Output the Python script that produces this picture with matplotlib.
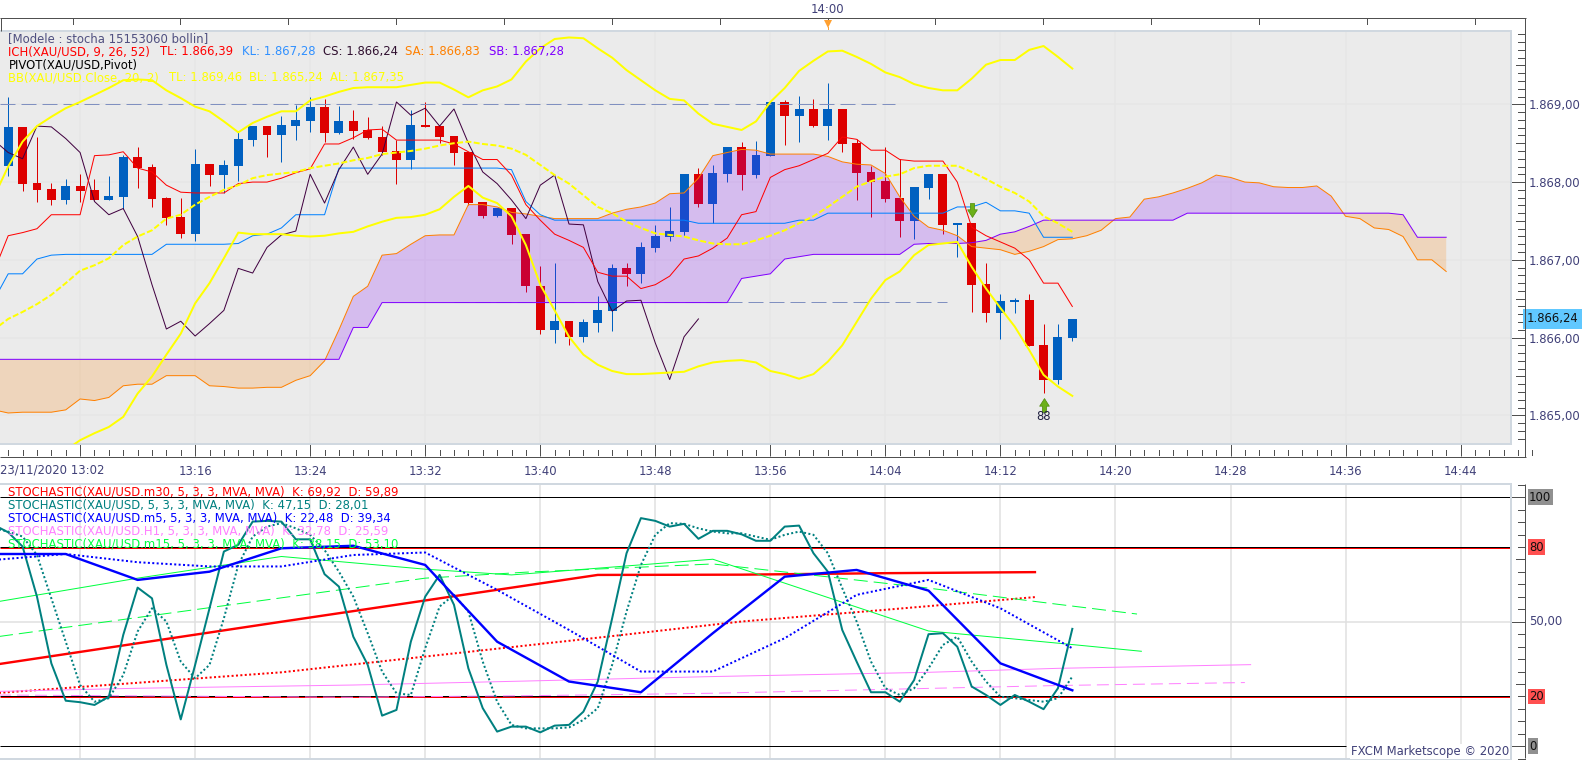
import matplotlib
matplotlib.use('Agg')
import matplotlib.pyplot as plt
from matplotlib.lines import Line2D
from matplotlib.path import Path

W, H = 1583, 760
TXT = '#404078'

# bars: one minute each, index 0 is the tick labelled 13:02
bar_t = list(range(-5, 70))
bar_open = [1868.21, 1868.71, 1867.99, 1867.91, 1867.77, 1867.95, 1867.90, 1867.77, 1867.81, 1868.32,
            1868.19, 1867.80, 1867.55, 1867.33, 1868.23, 1868.09, 1868.21, 1868.54, 1868.72, 1868.61,
            1868.72, 1868.79, 1868.97, 1868.63, 1868.79, 1868.67, 1868.58, 1868.40, 1868.28, 1868.73,
            1868.72, 1868.59, 1868.39, 1867.74, 1867.56, 1867.67, 1867.33, 1866.66, 1866.10, 1866.21,
            1866.01, 1866.19, 1866.34, 1866.90, 1866.82, 1867.15, 1867.29, 1867.36, 1868.10, 1867.72,
            1868.10, 1868.45, 1868.09, 1868.34, 1869.03, 1868.85, 1868.94, 1868.72, 1868.94, 1868.50,
            1868.13, 1868.01, 1867.80, 1867.50, 1867.92, 1868.10, 1867.45, 1867.47, 1866.69, 1866.32,
            1866.46, 1866.48, 1865.90, 1865.45, 1865.99]
bar_high = [1869.09, 1868.71, 1868.58, 1867.99, 1868.04, 1868.10, 1868.04, 1868.08, 1868.35, 1868.45,
            1868.23, 1867.81, 1867.80, 1868.43, 1868.23, 1868.28, 1868.66, 1868.72, 1868.72, 1868.85,
            1868.99, 1869.09, 1869.07, 1868.98, 1868.93, 1868.84, 1868.72, 1868.54, 1868.93, 1869.03,
            1868.72, 1868.59, 1868.39, 1867.74, 1867.67, 1867.67, 1867.33, 1866.92, 1866.96, 1866.21,
            1866.24, 1866.53, 1866.95, 1866.96, 1867.23, 1867.45, 1867.68, 1868.10, 1868.18, 1868.22,
            1868.45, 1868.52, 1868.53, 1869.03, 1869.06, 1869.11, 1869.07, 1869.27, 1868.94, 1868.55,
            1868.21, 1868.45, 1868.30, 1867.94, 1868.10, 1868.10, 1867.47, 1867.47, 1866.96, 1866.56,
            1866.51, 1866.56, 1866.17, 1866.17, 1866.24]
bar_low = [1868.08, 1867.88, 1867.75, 1867.70, 1867.72, 1867.74, 1867.77, 1867.77, 1867.66, 1867.92,
           1867.68, 1867.45, 1867.28, 1867.24, 1867.95, 1867.86, 1868.01, 1868.46, 1868.32, 1868.26,
           1868.54, 1868.64, 1868.52, 1868.62, 1868.56, 1868.55, 1868.35, 1867.98, 1868.17, 1868.71,
           1868.50, 1868.22, 1867.71, 1867.54, 1867.55, 1867.20, 1866.59, 1866.05, 1865.93, 1865.90,
           1865.94, 1866.07, 1866.08, 1866.66, 1866.70, 1867.10, 1867.24, 1867.31, 1867.68, 1867.47,
           1868.00, 1867.90, 1868.05, 1868.34, 1868.48, 1868.52, 1868.71, 1868.54, 1868.39, 1867.77,
           1867.55, 1867.74, 1867.29, 1867.27, 1867.78, 1867.33, 1867.04, 1866.33, 1866.20, 1865.98,
           1866.32, 1865.89, 1865.29, 1865.40, 1865.96]
bar_close = [1868.71, 1867.98, 1867.90, 1867.77, 1867.95, 1867.89, 1867.77, 1867.82, 1868.32, 1868.18,
             1867.78, 1867.54, 1867.33, 1868.23, 1868.09, 1868.22, 1868.55, 1868.72, 1868.61, 1868.73,
             1868.80, 1868.97, 1868.63, 1868.79, 1868.66, 1868.57, 1868.39, 1868.28, 1868.73, 1868.71,
             1868.58, 1868.37, 1867.73, 1867.56, 1867.67, 1867.32, 1866.66, 1866.10, 1866.21, 1866.01,
             1866.20, 1866.36, 1866.90, 1866.82, 1867.17, 1867.31, 1867.37, 1868.10, 1867.72, 1868.12,
             1868.45, 1868.09, 1868.35, 1869.03, 1868.85, 1868.94, 1868.72, 1868.94, 1868.49, 1868.12,
             1868.00, 1867.78, 1867.50, 1867.94, 1868.10, 1867.45, 1867.47, 1866.68, 1866.32, 1866.47,
             1866.48, 1865.89, 1865.45, 1866.01, 1866.24]

# ichimoku, index -6 onwards
tenkan = [1866.85, 1867.31, 1867.35, 1867.40, 1867.58, 1867.58, 1867.58, 1868.34, 1868.35, 1868.39,
          1868.18, 1868.13, 1867.96, 1867.87, 1867.86, 1867.86, 1867.86, 1867.98, 1868.00, 1868.00,
          1868.05, 1868.12, 1868.17, 1868.49, 1868.49, 1868.57, 1868.67, 1868.68, 1868.54, 1868.54,
          1868.54, 1868.54, 1868.49, 1868.39, 1868.29, 1868.29, 1868.09, 1867.71, 1867.51, 1867.33,
          1867.25, 1867.16, 1866.84, 1866.79, 1866.79, 1866.63, 1866.68, 1866.79, 1867.01, 1867.05,
          1867.15, 1867.28, 1867.58, 1867.62, 1868.06, 1868.16, 1868.21, 1868.29, 1868.37, 1868.58,
          1868.55, 1868.41, 1868.41, 1868.29, 1868.27, 1868.27, 1868.27, 1868.00, 1867.42, 1867.31,
          1867.23, 1867.15, 1867.00, 1866.70, 1866.70, 1866.40]
kijun = ([1866.48, 1866.82, 1866.82, 1867.01, 1867.06] + [1867.07] * 7 + [1867.20] * 5
         + [1867.21, 1867.31, 1867.33, 1867.41] + [1867.58] * 3 + [1868.18] * 12
         + [1868.16, 1867.75, 1867.58] + [1867.51] * 10 + [1867.47] * 7 + [1867.51] * 2
         + [1867.60] * 9 + [1867.68, 1867.68, 1867.74, 1867.63, 1867.63, 1867.60] + [1867.29] * 3)
chikou = [1868.54, 1868.38, 1868.30, 1868.72, 1868.71, 1868.56, 1868.38, 1867.75, 1867.58, 1867.66,
          1867.30, 1866.68, 1866.11, 1866.21, 1866.02, 1866.18, 1866.35, 1866.89, 1866.83, 1867.16,
          1867.32, 1867.37, 1868.10, 1867.73, 1868.16, 1868.45, 1868.10, 1868.36, 1869.03, 1868.86,
          1868.95, 1868.72, 1868.94, 1868.50, 1868.13, 1867.98, 1867.77, 1867.53, 1867.96, 1868.09,
          1867.46, 1867.45, 1866.72, 1866.34, 1866.47, 1866.48, 1865.93, 1865.46, 1866.01, 1866.24]
senkou_a = [1865.07, 1865.03, 1865.04, 1865.04, 1865.04, 1865.07, 1865.21, 1865.19, 1865.23, 1865.38,
            1865.40, 1865.40, 1865.51, 1865.51, 1865.51, 1865.38, 1865.37, 1865.35, 1865.35, 1865.36,
            1865.36, 1865.45, 1865.51, 1865.70, 1866.10, 1866.53, 1866.66, 1867.06, 1867.08, 1867.20,
            1867.31, 1867.32, 1867.32, 1867.71, 1867.71, 1867.68, 1867.61, 1867.59, 1867.56, 1867.53,
            1867.53, 1867.53, 1867.53, 1867.60, 1867.65, 1867.68, 1867.73, 1867.85, 1867.86, 1868.05,
            1868.34, 1868.38, 1868.42, 1868.41, 1868.36, 1868.36, 1868.36, 1868.36, 1868.33, 1868.26,
            1868.23, 1868.22, 1868.11, 1867.81, 1867.56, 1867.42, 1867.38, 1867.31, 1867.17, 1867.15,
            1867.13, 1867.07, 1867.11, 1867.17, 1867.26, 1867.27, 1867.31, 1867.38, 1867.53, 1867.55,
            1867.78, 1867.81, 1867.86, 1867.92, 1867.99, 1868.09, 1868.06, 1868.00, 1867.99, 1867.94,
            1867.93, 1867.93, 1867.95, 1867.82, 1867.56, 1867.53, 1867.41, 1867.39, 1867.30, 1867.00,
            1867.00, 1866.85]
senkou_b = ([1865.72] * 25 + [1866.13] * 2 + [1866.45] * 25
            + [1866.76, 1866.79, 1866.82, 1867.01, 1867.04] + [1867.07] * 7
            + [1867.20] + [1867.21] * 3 + [1867.22, 1867.25, 1867.33, 1867.36, 1867.43]
            + [1867.51] * 10 + [1867.60] * 15 + [1867.58] + [1867.29] * 3)

# bollinger
bb_top = [1867.81, 1868.20, 1868.52, 1868.72, 1868.84, 1868.95, 1869.03, 1869.12, 1869.21, 1869.31,
          1869.32, 1869.31, 1869.18, 1869.08, 1868.97, 1868.91, 1868.78, 1868.64, 1868.76, 1868.84,
          1868.91, 1868.91, 1869.05, 1869.10, 1869.16, 1869.21, 1869.22, 1869.22, 1869.22, 1869.25,
          1869.28, 1869.28, 1869.19, 1869.09, 1869.18, 1869.23, 1869.32, 1869.55, 1869.72, 1869.84,
          1869.86, 1869.85, 1869.72, 1869.60, 1869.44, 1869.31, 1869.18, 1869.07, 1869.05, 1868.88,
          1868.75, 1868.71, 1868.67, 1868.78, 1869.03, 1869.21, 1869.43, 1869.56, 1869.68, 1869.69,
          1869.61, 1869.52, 1869.41, 1869.35, 1869.26, 1869.21, 1869.18, 1869.18, 1869.33, 1869.51,
          1869.57, 1869.57, 1869.70, 1869.75, 1869.61, 1869.46]
bb_mid = [1866.10, 1866.24, 1866.33, 1866.43, 1866.55, 1866.70, 1866.86, 1866.93, 1867.02, 1867.19,
          1867.30, 1867.38, 1867.53, 1867.58, 1867.71, 1867.81, 1867.90, 1867.96, 1868.05, 1868.09,
          1868.11, 1868.13, 1868.18, 1868.21, 1868.24, 1868.28, 1868.31, 1868.36, 1868.38, 1868.40,
          1868.43, 1868.47, 1868.50, 1868.52, 1868.49, 1868.47, 1868.43, 1868.35, 1868.22, 1868.09,
          1867.98, 1867.83, 1867.68, 1867.60, 1867.49, 1867.41, 1867.34, 1867.32, 1867.30, 1867.25,
          1867.21, 1867.20, 1867.20, 1867.25, 1867.31, 1867.38, 1867.47, 1867.56, 1867.68, 1867.81,
          1867.94, 1868.01, 1868.07, 1868.10, 1868.18, 1868.21, 1868.21, 1868.21, 1868.13, 1868.04,
          1867.94, 1867.86, 1867.75, 1867.56, 1867.47, 1867.36]
# lower band starts at index -1
bb_bot = [1864.55, 1864.68, 1864.77, 1864.85, 1864.98, 1865.28, 1865.50, 1865.78, 1866.05, 1866.44,
          1866.70, 1867.02, 1867.35, 1867.33, 1867.33, 1867.33, 1867.31, 1867.30, 1867.31, 1867.34,
          1867.36, 1867.43, 1867.49, 1867.54, 1867.55, 1867.58, 1867.65, 1867.81, 1867.95, 1867.80,
          1867.73, 1867.56, 1867.19, 1866.68, 1866.35, 1866.01, 1865.78, 1865.65, 1865.57, 1865.53,
          1865.53, 1865.54, 1865.55, 1865.56, 1865.63, 1865.68, 1865.70, 1865.71, 1865.68, 1865.57,
          1865.53, 1865.47, 1865.53, 1865.69, 1865.90, 1866.20, 1866.50, 1866.74, 1866.85, 1867.06,
          1867.19, 1867.21, 1867.23, 1866.91, 1866.63, 1866.38, 1866.14, 1865.84, 1865.52, 1865.37,
          1865.25]

price_ticks = [1865, 1866, 1867, 1868, 1869]
price_labels = ['1.865,00', '1.866,00', '1.867,00', '1.868,00', '1.869,00']
time_ticks = list(range(0, 97, 8))
time_labels = ['', '13:16', '13:24', '13:32', '13:40', '13:48', '13:56', '14:04', '14:12',
               '14:20', '14:28', '14:36', '14:44']

# stochastics, current timeframe, index -6 to 69
sto_k = [88.9, 85.9, 80.2, 60.1, 33.3, 18.3, 17.7, 16.6, 19.9, 44.7,
         63.7, 59.4, 32.7, 10.8, 32.7, 55.4, 78.2, 80.9, 90.2, 90.5,
         90.2, 83.1, 83.1, 69.1, 64.1, 44.0, 32.7, 12.3, 14.6, 42.0,
         60.1, 68.8, 56.8, 31.3, 15.3, 5.9, 7.9, 7.9, 5.6, 8.3,
         8.6, 13.9, 26.0, 51.4, 77.5, 91.6, 90.5, 88.2, 89.3, 83.3,
         86.5, 86.5, 85.1, 82.5, 82.5, 88.2, 88.6, 77.5, 70.1, 46.7,
         34.0, 21.7, 21.7, 17.9, 26.6, 45.0, 45.4, 40.0, 24.0, 20.6,
         16.6, 20.6, 17.9, 14.9, 23.3, 47.15]
sto_d = [87.5, 86.2, 84.2, 76.8, 59.4, 42.0, 24.6, 17.9, 19.3, 28.6,
         46.1, 55.4, 50.1, 34.0, 27.3, 32.7, 51.4, 72.8, 84.2, 88.2,
         89.6, 87.5, 84.9, 78.8, 70.1, 60.1, 45.4, 30.0, 21.3, 20.6,
         39.4, 56.1, 60.8, 54.1, 34.0, 17.9, 8.6, 7.2, 7.2, 7.2,
         7.6, 10.6, 15.3, 32.7, 54.1, 72.8, 84.9, 89.6, 89.3, 87.5,
         86.2, 85.5, 85.5, 84.2, 82.9, 84.9, 86.2, 84.9, 77.5, 63.5,
         50.1, 34.0, 23.3, 20.6, 23.3, 31.3, 40.7, 44.0, 34.0, 26.0,
         19.9, 19.3, 18.6, 17.9, 19.3, 28.01]

# the higher timeframes only have a point every few bars
m5_t = [-6, -1, 4, 9, 14, 19, 24, 29, 34, 39, 44, 49, 54, 59, 64, 69]
m5_k = [77.2, 77.2, 66.8, 70.1, 79.5, 80.5, 72.8, 42.0, 26.0, 21.7, 45.4, 68.1, 70.8, 62.5, 33.3, 22.48]
m5_d = [74.8, 77.2, 73.9, 72.2, 72.2, 76.8, 77.8, 62.8, 46.7, 30.0, 30.0, 43.4, 60.8, 66.8, 55.4, 39.34]
m30_t = [-6, 14, 36, 46, 56, 66.4]
m30_k = [32.7, 50.0, 68.8, 68.9, 69.5, 69.92]
m30_d = [21.3, 29.7, 43.6, 50.1, 54.8, 59.89]
m15k_t = [-6, 4, 14, 24, 30, 44, 59, 68, 73.8]
m15_k = [57.8, 67.5, 76.2, 71.1, 68.8, 75.1, 46.3, 41.4, 38.15]
m15d_t = [-6, 24, 31, 44, 59, 68, 73.5]
m15_d = [43.8, 67.5, 69.9, 73.2, 63.5, 57.0, 53.10]
h1k_t = [-6, 4, 19, 31, 44, 59, 68, 81.4]
h1_k = [22.0, 23.3, 24.6, 26.2, 28.0, 29.7, 31.3, 32.78]
h1d_t = [-6, 19, 31, 39, 44, 54, 68, 81]
h1_d = [20.6, 19.7, 20.3, 20.9, 21.3, 22.6, 24.4, 25.59]

sto_ticks = [100, 80, 50, 20, 0]

plt.rcParams['font.family'] = 'DejaVu Sans'
plt.rcParams['font.size'] = 8.4

px = 0.72  # one pixel in points at dpi 100
thin = 1.0 * px
thick = 2.0 * px
tick_w = 1.0 * px
x_per_bar = 14.38
x_zero = 80.1
left_t, right_t = (0 - x_zero) / x_per_bar, (1511 - x_zero) / x_per_bar

fig = plt.figure(figsize=(W / 100, H / 100), dpi=100, facecolor='white')
ax = fig.add_axes([0, 1 - 444 / H, 1511 / W, (444 - 30.7) / H], facecolor='#EBEBEB')
ax2 = fig.add_axes([0, 1 - 759 / H, 1511 / W, (759 - 484) / H], facecolor='white')


def chrome(x0, y0, x1, y1, color='#505050', lw=1.0):
    # frame lines placed in image pixels
    fig.add_artist(Line2D([x0 / W, x1 / W], [1 - y0 / H, 1 - y1 / H], color=color, lw=lw * px,
                          solid_capstyle='butt', transform=fig.transFigure))


for a in (ax, ax2):
    a.set_xlim(left_t, right_t)
    for s in a.spines.values():
        s.set_color('#D0D8E0')
        s.set_linewidth(2 * px)
    a.spines['left'].set_visible(False)
ax.set_ylim(1864.631, 1869.947)
ax2.set_ylim(-5.1, 105.3)

# main panel, candles below the cloud so the cloud tints them
ax.set_axisbelow(True)
ax.grid(True, color='#E6E6E6', lw=1.5 * px)
colors = ['#0060C0' if c >= o else '#DD0000' for o, c in zip(bar_open, bar_close)]
ax.vlines(bar_t, bar_low, bar_high, colors=colors, lw=1 * px, zorder=2)
bottoms = [min(o, c) for o, c in zip(bar_open, bar_close)]
heights = [abs(o - c) for o, c in zip(bar_open, bar_close)]
ax.bar(bar_t, heights, width=0.62, bottom=bottoms, color=colors, zorder=2.1, antialiased=False)

t_ich = list(range(-6, 96))
a_over = [x >= y for x, y in zip(senkou_a, senkou_b)]
b_over = [y >= x for x, y in zip(senkou_a, senkou_b)]
ax.fill_between(t_ich, senkou_a, senkou_b, where=a_over, interpolate=True, color='#8000FF', alpha=0.2, lw=0, zorder=3)
ax.fill_between(t_ich, senkou_a, senkou_b, where=b_over, interpolate=True, color='#FF8000', alpha=0.2, lw=0, zorder=3)

ax.hlines(1869, left_t, 56.7, colors='#8090C0', lw=1 * px, linestyles=(0, (15, 6)), zorder=3.5)
ax.hlines(1866.46, 26, 60.3, colors='#8090C0', lw=1 * px, linestyles=(0, (15, 6)), zorder=3.5)

ax.plot(t_ich, senkou_a, color='#FF8000', lw=thin, zorder=4)
ax.plot(t_ich, senkou_b, color='#8000FF', lw=thin, zorder=4)
ax.plot(range(-6, 70), kijun, color='#0080FF', lw=thin, zorder=4)
ax.plot(range(-6, 44), chikou, color='#400040', lw=thin, zorder=4)
ax.plot(range(-6, 70), tenkan, color='#FF0000', lw=thin, zorder=4)
ax.plot(range(-6, 70), bb_top, color='#FFFF00', lw=thick, zorder=5)
ax.plot(range(-1, 70), bb_bot, color='#FFFF00', lw=thick, zorder=5)
ax.plot(range(-6, 70), bb_mid, color='#FFFF00', lw=thick, ls=(0, (3, 1.2)), zorder=5)

# signal arrows
down = Path([(-.3, 1), (.3, 1), (.3, .1), (.7, .1), (0, -1), (-.7, .1), (-.3, .1), (-.3, 1)])
up = Path([(-.3, -1), (.3, -1), (.3, -.1), (.7, -.1), (0, 1), (-.7, -.1), (-.3, -.1), (-.3, -1)])
ax.scatter([62], [1867.64], marker=down, s=100, color='#6CB018', edgecolors='#4C8A08', lw=.5, zorder=6)
ax.scatter([67], [1865.13], marker=up, s=100, color='#6CB018', edgecolors='#4C8A08', lw=.5, zorder=6)
ax.text(67, 1864.98, '88', ha='center', va='center', color='#202040', zorder=6)

# bottom axis
ax.set_xticks(time_ticks, time_labels)
ax.tick_params(axis='x', length=12 * px, width=tick_w, color='#505050', pad=6.5, labelcolor=TXT)
for t in range(-5, 102):
    ax.plot([t, t], [-0.0275, -0.0145], transform=ax.get_xaxis_transform(), color='#505050',
            lw=tick_w, clip_on=False, zorder=1)
ax.annotate('23/11/2020 13:02', xy=(0, 0), xycoords=('data', 'axes fraction'), xytext=(52 - x_zero, -26),
            textcoords='offset pixels', ha='center', va='center', color=TXT, annotation_clip=False)

# right axis
ax.yaxis.tick_right()
ax.set_yticks(price_ticks, price_labels)
ax.tick_params(axis='y', length=14 * px, width=tick_w, color='#505050', pad=2.5, labelcolor=TXT)
y_trans = ax.get_yaxis_transform()
for v in range(18647, 18700):
    if v % 10 != 0:
        x0 = 1516 if v % 5 == 0 else 1518
        ax.plot([x0 / 1511, 1525 / 1511], [v / 10, v / 10], transform=y_trans, color='#505050',
                lw=tick_w, clip_on=False, zorder=1)
ax.text(1527 / 1511, 1866.24, '1.866,24', transform=y_trans, va='center', ha='left', color='#101010',
        bbox=dict(facecolor='#60C8FF', edgecolor='none', pad=2.5), clip_on=False, zorder=7)

# top axis, ticks sit on their own 7.5 bar step
x_trans = ax.get_xaxis_transform()
for k in range(14):
    t = -0.52 + 7.5 * k
    ax.plot([t, t], [1.030, 1.0155], transform=x_trans, color='#505050', lw=tick_w, clip_on=False, zorder=1)
ax.plot([52, 52], [1.0, 1.01], transform=x_trans, color='#FFA030', lw=1 * px, clip_on=False)
ax.plot([52], [1.0165], transform=x_trans, marker='v', ms=8 * px, color='#FFA030', mew=0, clip_on=False)
ax.text(52, 1.0515, '14:00', transform=x_trans, ha='center', va='center', color=TXT)
chrome(0, 18.3, 1526, 18.3)
chrome(0.7, 18.3, 0.7, 31)
chrome(0, 456.7, 1526, 456.7)
chrome(1525, 18.3, 1525, 457)
chrome(1525, 484, 1525, 758)

# main legend
def legend_row(a, items, y_px, top_px, h_px):
    for x_px, s, c in items:
        a.text(x_px / 1511, 1 - (y_px - top_px) / h_px, s, color=c, transform=a.transAxes, va='center', ha='left', zorder=8)


main_rows = [
    (39, [(8.4, '[Modele : stocha 15153060 bollin]', '#505080')]),
    (51.7, [(8.4, 'ICH(XAU/USD, 9, 26, 52)', '#FF0000'), (160.5, 'TL: 1.866,39', '#FF0000'),
            (241.6, 'KL: 1.867,28', '#3090FF'), (322.6, 'CS: 1.866,24', '#301030'),
            (405.4, 'SA: 1.866,83', '#FF8000'), (488.9, 'SB: 1.867,28', '#8000FF')]),
    (65, [(8.4, 'PIVOT(XAU/USD,Pivot)', '#000000')]),
    (77.7, [(8.4, 'BB(XAU/USD.Close, 20, 2)', '#FFFF00'), (169, 'TL: 1.869,46', '#FFFF00'),
            (249, 'BL: 1.865,24', '#FFFF00'), (330, 'AL: 1.867,35', '#FFFF00')]),
]
for y, items in main_rows:
    legend_row(ax, items, y, 30.7, 413.3)

# lower panel
ax2.set_axisbelow(True)
ax2.set_xticks(time_ticks)
ax2.set_yticks([50])
ax2.grid(True, color='#E0E0E0', lw=1.5 * px)
ax2.tick_params(left=False, bottom=False, labelleft=False, labelbottom=False)

ax2.hlines([79.7, 19.7], left_t, right_t, colors='#FF0000', lw=1 * px, zorder=2)
ax2.hlines([100, 80, 20], left_t, right_t, colors='#000000', lw=1 * px, zorder=2.1)
ax2.hlines(0, left_t, 88, colors='#000000', lw=1 * px, zorder=2.1)

ax2.plot(m30_t, m30_k, color='#FF0000', lw=2.4 * px, zorder=3)
ax2.plot(m30_t, m30_d, color='#FF0000', lw=thick, ls=(0, (1, 1.2)), zorder=3)
ax2.plot(h1k_t, h1_k, color='#FF80FF', lw=thin, zorder=3)
ax2.plot(h1d_t, h1_d, color='#FF80FF', lw=thin, ls=(0, (12, 6)), zorder=3)
ax2.plot(m15k_t, m15_k, color='#00FF40', lw=thin, zorder=3)
ax2.plot(m15d_t, m15_d, color='#00FF40', lw=thin, ls=(0, (14, 6)), zorder=3)
ax2.plot(range(-6, 70), sto_k, color='#008080', lw=thick, zorder=4)
ax2.plot(range(-6, 70), sto_d, color='#008080', lw=thick, ls=(0, (1, 1.2)), zorder=4)
ax2.plot(m5_t, m5_k, color='#0000FF', lw=2.4 * px, zorder=5)
ax2.plot(m5_t, m5_d, color='#0000FF', lw=thick, ls=(0, (1, 1.2)), zorder=5)

lower_rows = [
    (491.7, 'STOCHASTIC(XAU/USD.m30, 5, 3, 3, MVA, MVA)  K: 69,92  D: 59,89', '#FF0000'),
    (505, 'STOCHASTIC(XAU/USD, 5, 3, 3, MVA, MVA)  K: 47,15  D: 28,01', '#008080'),
    (518, 'STOCHASTIC(XAU/USD.m5, 5, 3, 3, MVA, MVA)  K: 22,48  D: 39,34', '#0000FF'),
    (531, 'STOCHASTIC(XAU/USD.H1, 5, 3, 3, MVA, MVA)  K: 32,78  D: 25,59', '#FF80FF'),
    (544, 'STOCHASTIC(XAU/USD.m15, 5, 3, 3, MVA, MVA)  K: 38,15  D: 53,10', '#00FF40'),
]
for y, s, c in lower_rows:
    legend_row(ax2, [(8.4, s, c)], y, 484, 275)

y2_trans = ax2.get_yaxis_transform()
for v in range(-5, 106, 5):
    x0 = 1511 if v in (0, 50, 100) else (1516 if v in (25, 75) else 1518)
    ax2.plot([x0 / 1511, 1525 / 1511], [v, v], transform=y2_trans, color='#505050', lw=tick_w, clip_on=False)

sto_boxes = [('100', '#909090', '#101010'), ('80', '#FF5050', '#101010'), ('50,00', 'none', TXT),
             ('20', '#FF5050', '#101010'), ('0', '#909090', '#101010')]
for v, (s, bg, c) in zip(sto_ticks, sto_boxes):
    ax2.text(1529 / 1511, v, s, transform=y2_trans, va='center', ha='left', color=c,
             bbox=dict(facecolor=bg, edgecolor='none', pad=1), clip_on=False)
ax2.text(1509 / 1511, 0.028, 'FXCM Marketscope \u00a9 2020', transform=ax2.transAxes, va='center', ha='right',
         color=TXT, bbox=dict(facecolor='white', edgecolor='none', pad=0.5), zorder=8)

fig.savefig('out.png', dpi=100)
